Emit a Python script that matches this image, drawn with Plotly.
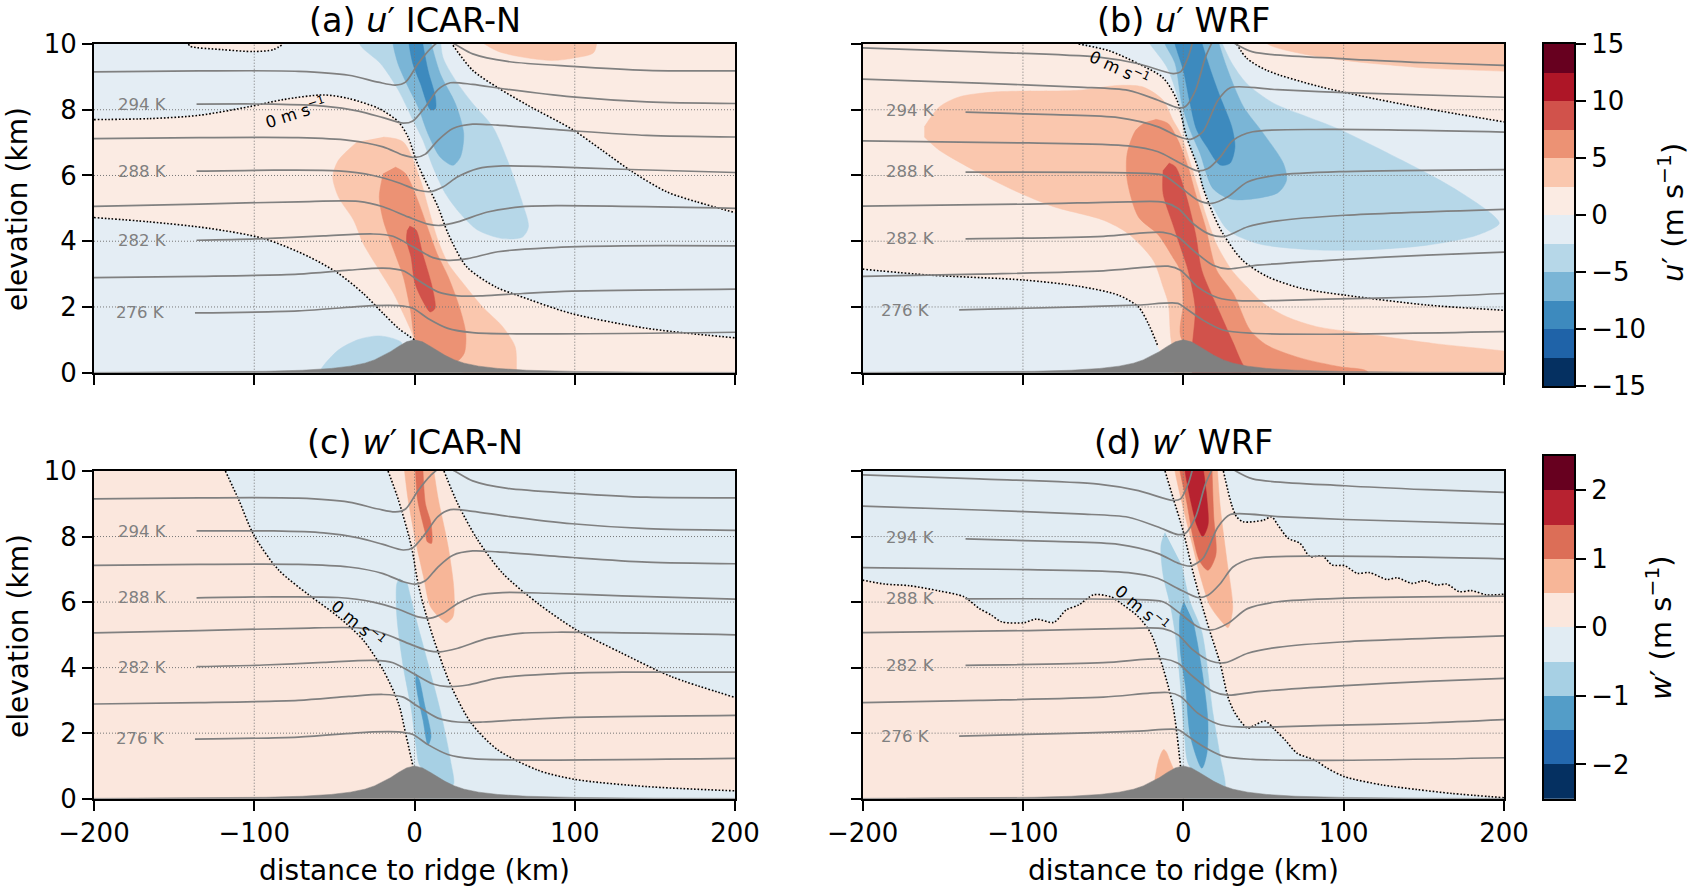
import plotly.graph_objects as go

# ---------- tick labels / levels ----------
X_TICKS = [-200, -100, 0, 100, 200]
Y_TICKS = [0, 2, 4, 6, 8, 10]
X_GRID = [-100, 0, 100]
Y_GRID = [2, 4, 6, 8]
U_LEVELS = [-15, -12.5, -10, -7.5, -5, -2.5, 0, 2.5, 5, 7.5, 10, 12.5, 15]
W_LEVELS = [-2.5, -2, -1.5, -1, -0.5, 0, 0.5, 1, 1.5, 2, 2.5]
U_TICKS = [-15, -10, -5, 0, 5, 10, 15]
W_TICKS = [-2, -1, 0, 1, 2]
U_COLORS = ["#053061", "#1f63a8", "#3d8abe", "#7ab5d6", "#b6d7e8", "#e4edf4",
            "#fbebe3", "#fac7ae", "#ec9274", "#d1524b", "#ae1627", "#67001f"]
W_COLORS = ["#053061", "#2468ae", "#539dc8", "#a7d0e4", "#e1ecf3",
            "#fbe7dd", "#f7b698", "#dc6e57", "#b72230", "#67001f"]

# ---------- terrain ----------
TERRAIN_X = [-200, -150, -100, -93, -70, -52, -40, -31, -25, -19, -15, -10, -5, 0, 5, 10, 15, 19, 25, 31, 40, 52, 70, 93, 100, 150, 200]
TERRAIN_Y = [0.01, 0.017, 0.04, 0.044, 0.075, 0.13, 0.2, 0.29, 0.39, 0.53, 0.64, 0.8, 0.94, 1.0, 0.94, 0.8, 0.64, 0.53, 0.39, 0.29, 0.2, 0.13, 0.075, 0.044, 0.04, 0.017, 0.01]

# ---------- potential temperature lines: ICAR-N ----------
IC_1X = [-137, -72.5, -25.8, -10, -1, 8.4, 20.8, 36.3, 67, 200]
IC_1Y = [1.82, 1.88, 2.04, 2.04, 1.96, 1.65, 1.35, 1.22, 1.18, 1.23]
IC_2X = [-200, -134.5, -72.5, -41, -19.6, -7, 2, 14.6, 27, 42.5, 67.4, 98.5, 200]
IC_2Y = [2.89, 2.93, 3.0, 3.12, 3.18, 3.1, 2.82, 2.46, 2.34, 2.34, 2.41, 2.48, 2.54]
IC_3X = [-136, -94, -56.8, -25.8, -13.4, -1, 11.5, 20.8, 33.2, 52, 83, 129.5, 200]
IC_3Y = [4.03, 4.08, 4.16, 4.22, 4.15, 3.83, 3.5, 3.42, 3.47, 3.68, 3.8, 3.86, 3.86]
IC_4X = [-200, -134.5, -72.5, -35, -19.6, -4, 8.4, 16, 27, 45.6, 67.4, 89, 200]
IC_4Y = [5.06, 5.13, 5.2, 5.21, 5.05, 4.74, 4.52, 4.48, 4.59, 4.89, 5.05, 5.08, 5.0]
IC_5X = [-136, -88, -47.5, -25.8, -10, 2.2, 10, 17.7, 27, 39.5, 55, 83, 129.5, 200]
IC_5Y = [6.13, 6.16, 6.14, 6.0, 5.78, 5.55, 5.51, 5.65, 5.96, 6.21, 6.29, 6.27, 6.19, 6.09]
IC_6X = [-200, -134.5, -72.5, -41, -19.6, -7, 0.6, 6.8, 14.6, 24, 36.3, 52, 98.5, 145, 200]
IC_6Y = [7.12, 7.15, 7.15, 7.07, 6.87, 6.62, 6.55, 6.65, 7.07, 7.43, 7.56, 7.53, 7.36, 7.22, 7.17]
IC_7X = [-136, -88, -56.8, -35, -19.6, -7, -1, 6.8, 14.6, 22.4, 36.3, 58, 98.5, 145, 200]
IC_7Y = [8.17, 8.17, 8.11, 7.96, 7.76, 7.59, 7.66, 8.09, 8.61, 8.82, 8.77, 8.62, 8.39, 8.24, 8.19]
IC_8X = [-200, -134.5, -72.5, -41, -22.7, -12, -5.6, 2.2, 10, 18, 25, 36.3, 58, 98.5, 145, 200]
IC_8Y = [9.15, 9.18, 9.17, 9.05, 8.84, 8.75, 8.84, 9.4, 9.86, 10.15, 10.0, 9.7, 9.47, 9.32, 9.2, 9.18]
# ---------- potential temperature lines: WRF ----------
WR_1X = [-139.8, -65.3, -28, -3.3, 1.4, 12.2, 24.7, 43.3, 89.8, 200]
WR_1Y = [1.91, 2.0, 2.06, 2.11, 1.96, 1.6, 1.3, 1.2, 1.17, 1.25]
WR_2X = [-200, -127.4, -49.8, -9.5, -1.7, 9, 21.6, 34, 89.8, 152, 200]
WR_2Y = [2.93, 3.0, 3.1, 3.24, 3.12, 2.61, 2.28, 2.19, 2.24, 2.31, 2.41]
WR_3X = [-135.8, -49.8, -12.6, -3.3, 6, 18.5, 27.8, 46.4, 100.7, 152, 200]
WR_3Y = [4.07, 4.15, 4.27, 4.13, 3.73, 3.27, 3.16, 3.27, 3.45, 3.58, 3.67]
WR_4X = [-200, -96.4, -34.3, -12.6, -3.3, 6, 17, 26.2, 40.2, 58.8, 100.7, 200]
WR_4Y = [5.07, 5.13, 5.2, 5.19, 5.0, 4.54, 4.2, 4.15, 4.44, 4.62, 4.79, 4.97]
WR_5X = [-135.8, -34.3, -12.6, -3.3, 9, 17.8, 27.8, 40, 58.8, 100.7, 200]
WR_5Y = [6.1, 6.08, 6.01, 5.7, 5.25, 5.15, 5.35, 5.8, 6.01, 6.12, 6.18]
WR_6X = [-200, -96.4, -34.3, -15.7, -3.3, 9, 15.4, 23, 31, 43.3, 89.8, 200]
WR_6Y = [7.05, 6.99, 6.9, 6.72, 6.41, 6.14, 6.21, 6.56, 7.07, 7.33, 7.4, 7.32]
WR_7X = [-135.8, -80.8, -40.5, -15.7, -3.3, 4.5, 12.2, 21.6, 29.3, 58.8, 100.7, 200]
WR_7Y = [7.93, 7.85, 7.76, 7.48, 7.19, 7.1, 7.33, 8.29, 8.67, 8.61, 8.52, 8.38]
WR_8X = [-200, -127.4, -65.3, -34.3, -15.7, -3.3, 1.4, 7.6, 13.8, 18.5]
WR_8Y = [8.93, 8.81, 8.69, 8.59, 8.29, 8.06, 8.1, 8.59, 9.6, 10.1]
WR_9X = [-200, -127.4, -52.9, -28, -6.4, -1.7, 3, 6]
WR_9Y = [9.88, 9.76, 9.6, 9.4, 9.1, 9.15, 9.6, 10.1]
WR_10X = [31, 43.3, 100.7, 152, 200]
WR_10Y = [10.05, 9.76, 9.55, 9.43, 9.35]

# ---------- panel (a) u' ICAR-N ----------
A_Z1X = [-200, -165.5, -134.5, -103.4, -81.7, -56.8, -41, -22, -10, -4, 1, 5.6, 14.6, 21, 32.6, 51, 64, 98, 145, 200]
A_Z1Y = [7.7, 7.73, 7.83, 8.09, 8.31, 8.45, 8.34, 8.03, 7.63, 7.17, 6.46, 5.96, 5.05, 4.23, 3.22, 2.6, 2.36, 1.8, 1.35, 1.06]
A_Z2X = [-200, -165.5, -128, -94, -66, -47.5, -32, -19.5, -10, 0]
A_Z2Y = [4.72, 4.59, 4.39, 4.08, 3.53, 3.02, 2.41, 1.8, 1.35, 1.0]
A_Z3X = [24, 36.3, 52, 70.5, 98.5, 117, 136, 157.5, 176, 200]
A_Z3Y = [9.96, 9.2, 8.67, 8.14, 7.4, 6.77, 6.11, 5.5, 5.2, 4.87]
A_Z4X = [-141, -140, -120, -100, -88, -82]
A_Z4Y = [10, 9.93, 9.83, 9.77, 9.83, 10]
A_P1X = [-19.5, -7, 3.7, 8.4, 14.6, 21, 30.3, 42.5, 55, 62.8, 63.6, 63, 20, 0.5, -1.5, -7, -13, -22, -32, -38, -47.5, -51, -47.5, -35.8]
A_P1Y = [7.17, 7.02, 5.86, 5.05, 4.03, 3.32, 2.72, 2.0, 1.4, 0.79, 0.18, -0.3, 0.2, 0.9, 1.2, 1.8, 2.41, 3.12, 3.93, 4.64, 5.35, 5.96, 6.46, 7.02]
A_P2X = [-12, -5.6, 2, 8, 14, 21, 28, 32, 31, 26, 10, 0.7, -2.5, -7, -13, -19.5, -22, -19.5]
A_P2Y = [6.26, 6.06, 5.25, 4.44, 3.63, 2.92, 2.0, 1.2, 0.59, 0.33, 0.5, 1.0, 1.9, 2.92, 3.73, 4.64, 5.35, 6.06]
A_P3X = [-3, 1, 5, 11, 12.8, 9.8, 5, 0.3, -2.2, -5, -4.5]
A_P3Y = [4.46, 4.34, 3.63, 2.61, 1.96, 1.85, 2.2, 2.72, 3.53, 4.03, 4.34]
A_P4X = [32, 52, 85, 100, 112, 113, 100]
A_P4Y = [10.4, 9.78, 9.5, 9.58, 9.75, 10.4, 10.6]
A_N1X = [-36, -33.8, -21.1, -10, -0.9, 5.3, 11.5, 19.3, 28.6, 39.4, 55, 67.4, 71.1, 67.4, 58, 48.8, 36.3, 25.5, 17.7, 16]
A_N1Y = [10.4, 9.96, 9.4, 8.59, 7.68, 7.07, 6.26, 5.45, 4.84, 4.34, 4.08, 4.13, 4.44, 5.15, 6.46, 7.48, 8.19, 8.9, 9.6, 10.4]
A_N2X = [-14, -13.4, -10.3, -4, 2.2, 8.4, 16, 24, 28.6, 30.7, 25.5, 16, 8.4]
A_N2Y = [10.4, 10, 9.4, 8.7, 8.09, 7.27, 6.56, 6.31, 6.56, 7.27, 8.19, 9.1, 10.4]
A_N3X = [-4, -3.4, -1, 3.7, 10, 13, 13, 8.4, 3.7]
A_N3Y = [10.4, 10, 9.4, 8.8, 8, 8.03, 8.39, 9.2, 10.4]
A_N4X = [-60, -58.4, -47.5, -35, -22.7, -13.4, -7.8, -22.7, -40]
A_N4Y = [-0.2, 0.1, 0.69, 1.01, 1.12, 1.04, 0.89, 0.1, -0.2]

# ---------- panel (b) u' WRF ----------
B_Z1X = [-65.3, -46.7, -28, -12.6, -4, 2, 9.2, 12.2, 18.5, 24.7, 37, 52.6, 74.3, 100.7, 151.9, 200]
B_Z1Y = [10, 9.8, 9.4, 8.97, 8.3, 7.18, 6.22, 5.65, 4.84, 4.23, 3.42, 2.92, 2.56, 2.36, 2.06, 1.9]
B_Z2X = [-200, -158.4, -99.5, -65.3, -40.5, -28, -21.9, -15.7]
B_Z2Y = [3.15, 2.97, 2.82, 2.63, 2.36, 2.0, 1.5, 0.79]
B_Z3X = [33.3, 39.5, 52, 85.3, 136.4, 200]
B_Z3Y = [10, 9.57, 9.2, 8.7, 8.17, 7.63]
B_P1X = [-161.5, -152, -139.8, -118, -65.3, -40.5, -25, -12.6, -6.4, -1.7, 4.5, 9, 13.8, 20.8, 30.2, 39.5, 49.9, 64.5, 83.2, 108.1, 155.9, 200, 215, 215, 0, -7.6, -9.3, -12.6, -18.8, -34.3, -49.8, -80.8, -105.7, -130.5, -152.2, -161.5]
B_P1Y = [7.48, 8.09, 8.39, 8.54, 8.59, 8.74, 8.69, 8.29, 7.68, 7.27, 6.36, 5.65, 4.84, 3.9, 3.12, 2.62, 2.11, 1.70, 1.40, 1.22, 0.89, 0.66, 0.55, -0.5, -0.5, 1.0, 2.1, 2.61, 3.42, 4.23, 4.64, 5.05, 5.55, 6.16, 6.77, 7.17]
B_P2X = [-17.2, -9.5, -3.3, 3, 7.6, 13.8, 20.8, 31.2, 41.6, 52, 72.8, 97.7, 114.4, 118, 60, -0.8, -0.1, -2, -6.4, -15.7, -28, -35, -35, -29.6, -23.4]
B_P2Y = [7.71, 7.58, 7.07, 6.26, 5.45, 4.44, 3.12, 2.41, 1.30, 0.84, 0.45, 0.18, 0.05, -0.3, -0.5, 1.0, 2.1, 3.12, 3.5, 4.2, 4.74, 5.86, 6.67, 7.38, 7.63]
B_P3X = [-8.9, -4.8, 1.4, 7.6, 11.5, 22.9, 31.2, 37.4, 45, 7.4, 7.4, 3, -0.2, -6.4, -12.6, -12.6]
B_P3Y = [6.38, 6.26, 5.45, 4.23, 3.12, 1.81, 0.90, 0.23, -0.2, -0.2, 2.0, 3.12, 3.6, 4.5, 5.45, 6.16]
B_P4X = [46, 52.6, 74.3, 100.7, 152, 200, 215, 215]
B_P4Y = [10.4, 10, 9.7, 9.5, 9.27, 9.17, 9.12, 10.4]
B_N1X = [-26, -20.8, -10.3, -3, 1, 8.4, 12.2, 18.5, 27.8, 46.4, 77.4, 111.6, 152, 183, 197, 192, 167.4, 136.4, 96, 77, 56.2, 39.5, 30.2, 20.8]
B_N1Y = [10.4, 10, 9.3, 8.3, 7.28, 6.37, 5.65, 5.05, 4.34, 3.93, 3.75, 3.73, 3.88, 4.18, 4.54, 4.84, 5.65, 6.46, 7.43, 7.79, 8.2, 8.8, 9.42, 10.4]
B_N2X = [-14, -11.4, -5.2, -1, 4.2, 10.4, 18.6, 30.9, 58.8, 64.4, 62.4, 49.9, 37.4, 27, 19.8]
B_N2Y = [10.4, 10, 9.42, 8.2, 7.38, 6.68, 5.6, 5.27, 5.47, 5.86, 6.37, 7.28, 8.1, 9.3, 10.4]
B_N3X = [-7, -5.2, 0, 4.2, 8.4, 14.6, 22.9, 29.1, 32.2, 30.2, 22.9, 17.7, 9.2]
B_N3Y = [10.4, 10, 9.2, 8.2, 7.38, 6.88, 6.32, 6.37, 6.87, 7.48, 8.4, 9.1, 10.4]

# ---------- panel (c) w' ICAR-N ----------
C_Z1X = [-118, -109.6, -100.3, -84.8, -66, -47.5, -32, -19.6, -10, -5.6, -0.9]
C_Z1Y = [10, 9.11, 8.05, 6.98, 6.22, 5.55, 4.84, 3.93, 2.91, 2, 0.98]
C_Z2X = [-16.5, -10, -1.9, 2.2, 7.6, 15, 23, 35.5, 52, 77, 100, 145, 200]
C_Z2Y = [10, 9.11, 7.69, 6.57, 5.55, 4.44, 3.42, 2.3, 1.49, 0.87, 0.59, 0.37, 0.24]
C_Z3X = [18.4, 27, 39.4, 55, 77, 101, 129.5, 160.6, 200]
C_Z3Y = [10, 9, 7.9, 6.88, 5.96, 5.15, 4.44, 3.72, 3.09]
C_P1X = [-7, -6.2, -3.9, 1, 5.6, 10, 17.4, 20, 24, 24.6, 21, 14.6, 10.9]
C_P1Y = [10.4, 10, 9.1, 7.79, 6.78, 5.86, 5.45, 5.37, 5.55, 6.37, 7.69, 9.2, 10.4]
C_P2X = [0, 0.6, 2, 6.8, 8, 10.6, 10.3, 6.8, 5]
C_P2Y = [10.4, 10, 9.1, 8.1, 7.84, 7.79, 8.4, 9, 10.4]
C_N1X = [-9.3, -11, -11, -7, -1.9, 1, 3.7, 24, 22.4, 16, 8.4, 0.6, -4.5]
C_N1Y = [6.72, 6.57, 5.55, 4.03, 2.7, 1.59, 0.98, 0.42, 1.18, 2.7, 4.13, 5.55, 6.57]
C_N2X = [0.8, 3, 6.1, 10.3, 8.4, 5.3, 2.2, 0.6]
C_N2Y = [3.82, 3.62, 2.91, 1.89, 1.64, 2.4, 3.11, 3.6]

# ---------- panel (d) w' WRF ----------
D_Z1X = [-200, -186.3, -170.8, -152.2, -136.7, -127.4, -119.6, -113.4, -99.5, -91.7, -80.8, -73, -65.3, -56, -45.2, -37.4, -28, -20.3, -12.6, -6.4, -1.7]
D_Z1Y = [6.67, 6.55, 6.5, 6.34, 6.16, 5.81, 5.6, 5.4, 5.37, 5.48, 5.38, 5.76, 5.91, 6.22, 6.16, 5.91, 5.55, 5.05, 3.98, 2.81, 0.98]
D_Z2X = [-11.4, -6.3, 0, 5.2, 10.4, 16.6, 23, 27.8, 32.4, 40.2, 44.8, 51, 57.2, 63.5, 71.2, 82, 89.8, 100.7, 124, 145.7, 167.4, 200]
D_Z2Y = [10, 9.17, 8.15, 7.08, 6.12, 5.1, 4.13, 3.11, 2.6, 2.15, 2.25, 2.37, 2.1, 1.79, 1.38, 1.18, 0.93, 0.67, 0.42, 0.28, 0.16, 0.03]
D_Z3X = [25, 30.2, 33.3, 37.4, 49.9, 55.1, 59, 65.3, 72.8, 79, 86.7, 92.9, 100.7, 108.4, 116, 127, 133.3, 142.6, 150.3, 158, 164.3, 172, 179.8, 189, 200]
D_Z3Y = [10, 8.96, 8.6, 8.45, 8.5, 8.6, 8.35, 7.95, 7.79, 7.39, 7.41, 7.13, 7.11, 6.88, 6.9, 6.69, 6.74, 6.57, 6.65, 6.52, 6.55, 6.32, 6.35, 6.22, 6.24]
D_P1X = [-6, -5.2, 0, 5.2, 10.4, 16.6, 24, 27.9, 30.8, 27, 22.9, 20.8]
D_P1Y = [10.4, 10, 8.86, 7.84, 6.83, 5.9, 5.4, 5.22, 5.81, 7.34, 8.96, 10.4]
D_P2X = [-3, -2.1, 2.1, 6.2, 10.4, 15.4, 20.3, 18.9, 17.7]
D_P2Y = [10.4, 10, 9.06, 7.95, 7.23, 6.97, 7.44, 8.65, 10.4]
D_P3X = [0.5, 1.1, 5.2, 8.4, 12.1, 15.4, 14.7, 11.5]
D_P3Y = [10.4, 10, 8.96, 8.35, 8.0, 8.35, 9.17, 10.4]
D_P4X = [-18.5, -17, -15.5, -13.5, -12.2, -10.5, -8.5, -6.5, -4.5, -8]
D_P4Y = [0.35, 0.8, 1.15, 1.42, 1.5, 1.42, 1.18, 0.95, 0.7, 0.3]
D_N1X = [-11.4, -13.9, -12.6, -7.9, -4.8, -1.7, 0.8, 4, 25.6, 23, 18.5, 11.5, 4.2, -1]
D_N1Y = [8.12, 7.74, 6.83, 5.86, 4.94, 3.42, 1.89, 0.98, 0.32, 1.28, 2.6, 5.1, 6.01, 7.13]
D_N2X = [0.4, -2.1, -1.7, 1.4, 4.5, 11.6, 14.7, 15.3, 12.2, 9, 6.2]
D_N2Y = [6.01, 5.6, 4.44, 3.42, 1.89, 0.93, 1.38, 2.4, 3.72, 4.69, 5.4]

UNIT_ZERO = "0 m s<sup>−1</sup>"
TH_LABELS = ["276 K", "282 K", "288 K", "294 K"]

# ---------- helpers ----------
GRAY = "#808080"
FONT = "DejaVu Sans"
W, H = 1692, 886
PANELS = {1: (94, 735, 44, 372.7), 2: (862.6, 1504, 44, 372.7),
          3: (94, 735, 471, 798.7), 4: (862.6, 1504, 471, 798.7)}
fig = go.Figure()


def ref(n):
    return dict(xaxis=f"x{n}", yaxis=f"y{n}")


def fill(n, xs, ys, color):
    fig.add_trace(go.Scatter(x=xs, y=ys, mode="lines", fill="toself", fillcolor=color,
                             line=dict(color=color, width=0.5, shape="spline", smoothing=0.8),
                             hoverinfo="skip", showlegend=False, **ref(n)))


def line(n, xs, ys, color=GRAY, width=1.7, dash="solid", shape="spline"):
    fig.add_trace(go.Scatter(x=xs, y=ys, mode="lines",
                             line=dict(color=color, width=width, dash=dash, shape=shape, smoothing=0.8),
                             hoverinfo="skip", showlegend=False, **ref(n)))


def grid(n):
    for g in X_GRID:
        line(n, [g, g], [0, 10], "#777777", 1, "1px,2px", "linear")
    for g in Y_GRID:
        line(n, [-200, 200], [g, g], "#777777", 1, "1px,2px", "linear")


def zero(n, *pairs):
    for xs, ys in pairs:
        line(n, xs, ys, "#000000", 1.6, "1.6px,1.9px")


def top(n, lines):
    for xs, ys in lines:
        line(n, xs, ys)
    fig.add_trace(go.Scatter(x=TERRAIN_X + [215, -215], y=TERRAIN_Y + [-0.5, -0.5], mode="lines",
                             fill="toself", fillcolor=GRAY, line=dict(color=GRAY, width=0.5),
                             hoverinfo="skip", showlegend=False, **ref(n)))


ICAR = [(IC_1X, IC_1Y), (IC_2X, IC_2Y), (IC_3X, IC_3Y), (IC_4X, IC_4Y),
        (IC_5X, IC_5Y), (IC_6X, IC_6Y), (IC_7X, IC_7Y), (IC_8X, IC_8Y)]
WRF = [(WR_1X, WR_1Y), (WR_2X, WR_2Y), (WR_3X, WR_3Y), (WR_4X, WR_4Y), (WR_5X, WR_5Y),
       (WR_6X, WR_6Y), (WR_7X, WR_7Y), (WR_8X, WR_8Y), (WR_9X, WR_9Y), (WR_10X, WR_10Y)]
UP = dict(n0=U_COLORS[5], n1=U_COLORS[4], n2=U_COLORS[3], n3=U_COLORS[2],
          p0=U_COLORS[6], p1=U_COLORS[7], p2=U_COLORS[8], p3=U_COLORS[9])
WP = dict(n0=W_COLORS[4], n1=W_COLORS[3], n2=W_COLORS[2],
          p0=W_COLORS[5], p1=W_COLORS[6], p2=W_COLORS[7], p3=W_COLORS[8])

# panel a
fill(1, [-215, 215, 215, -215], [-1, -1, 11, 11], UP["n0"])
fill(1, A_Z1X + [215, 215, 0] + A_Z2X[::-1] + [-215, -215],
     A_Z1Y + [1.0, -0.5, -0.5] + A_Z2Y[::-1] + [4.8, 7.7], UP["p0"])
fill(1, [20] + A_Z3X + [215, 215], [10.5] + A_Z3Y + [4.8, 10.5], UP["p0"])
fill(1, A_Z4X, A_Z4Y, UP["p0"])
fill(1, A_P1X, A_P1Y, UP["p1"])
fill(1, A_P2X, A_P2Y, UP["p2"])
fill(1, A_P3X, A_P3Y, UP["p3"])
fill(1, A_P4X, A_P4Y, UP["p1"])
fill(1, A_N1X, A_N1Y, UP["n1"])
fill(1, A_N2X, A_N2Y, UP["n2"])
fill(1, A_N3X, A_N3Y, UP["n3"])
fill(1, A_N4X, A_N4Y, UP["n1"])
grid(1)
zero(1, (A_Z1X, A_Z1Y), (A_Z2X, A_Z2Y), (A_Z3X, A_Z3Y), (A_Z4X, A_Z4Y))
top(1, ICAR)

# panel b
fill(2, [-215, 215, 215, -215], [-1, -1, 11, 11], UP["n0"])
fill(2, [-215, -70] + B_Z1X + [215, 215, 0] + B_Z2X[::-1] + [-215],
     [10.5, 10.5] + B_Z1Y + [1.85, -0.5, -0.5] + B_Z2Y[::-1] + [3.2], UP["p0"])
fill(2, [30] + B_Z3X + [215, 215], [10.5] + B_Z3Y + [7.5, 10.5], UP["p0"])
fill(2, B_P1X, B_P1Y, UP["p1"])
fill(2, B_P2X, B_P2Y, UP["p2"])
fill(2, B_P3X, B_P3Y, UP["p3"])
fill(2, B_P4X, B_P4Y, UP["p1"])
fill(2, B_N1X, B_N1Y, UP["n1"])
fill(2, B_N2X, B_N2Y, UP["n2"])
fill(2, B_N3X, B_N3Y, UP["n3"])
grid(2)
zero(2, (B_Z1X, B_Z1Y), (B_Z2X, B_Z2Y), (B_Z3X, B_Z3Y))
top(2, WRF)

# panel c
fill(3, [-215, 215, 215, -215], [-1, -1, 11, 11], WP["n0"])
fill(3, [-215, -120] + C_Z1X + [0, -215], [10.5, 10.5] + C_Z1Y + [-0.5, -0.5], WP["p0"])
fill(3, [-18] + C_Z2X + [215] + [215] + C_Z3X[::-1] + [17],
     [10.5] + C_Z2Y + [0.2] + [3.0] + C_Z3Y[::-1] + [10.5], WP["p0"])
fill(3, C_P1X, C_P1Y, WP["p1"])
fill(3, C_P2X, C_P2Y, WP["p2"])
fill(3, C_N1X, C_N1Y, WP["n1"])
fill(3, C_N2X, C_N2Y, WP["n2"])
grid(3)
zero(3, (C_Z1X, C_Z1Y), (C_Z2X, C_Z2Y), (C_Z3X, C_Z3Y))
top(3, ICAR)

# panel d
fill(4, [-215, 215, 215, -215], [-1, -1, 11, 11], WP["n0"])
fill(4, [-215] + D_Z1X + [0, -215], [6.7] + D_Z1Y + [-0.5, -0.5], WP["p0"])
fill(4, [-12.5] + D_Z2X + [215] + [215] + D_Z3X[::-1] + [24],
     [10.5] + D_Z2Y + [0.0] + [6.24] + D_Z3Y[::-1] + [10.5], WP["p0"])
fill(4, D_P1X, D_P1Y, WP["p1"])
fill(4, D_P2X, D_P2Y, WP["p2"])
fill(4, D_P3X, D_P3Y, WP["p3"])
fill(4, D_P4X, D_P4Y, WP["p1"])
fill(4, D_N1X, D_N1Y, WP["n1"])
fill(4, D_N2X, D_N2Y, WP["n2"])
grid(4)
zero(4, (D_Z1X, D_Z1Y), (D_Z2X, D_Z2Y), (D_Z3X, D_Z3Y))
top(4, WRF)

# colour bars
for lev, cols, ax in ((U_LEVELS, U_COLORS, 5), (W_LEVELS, W_COLORS, 6)):
    fig.add_trace(go.Bar(x=[0] * len(cols), y=[b - a for a, b in zip(lev[:-1], lev[1:])], base=lev[:-1],
                         width=1, marker=dict(color=cols, line=dict(width=0)), hoverinfo="skip",
                         showlegend=False, xaxis=f"x{ax}", yaxis=f"y{ax}"))

layout = dict(width=W, height=H, margin=dict(l=0, r=0, t=0, b=0, pad=0), autosize=False, template="none",
              paper_bgcolor="white", plot_bgcolor="white", barmode="overlay", bargap=0,
              font=dict(family=FONT, color="black"), showlegend=False)


def dom(x0, x1, y0, y1):
    return [x0 / W, x1 / W], [1 - y1 / H, 1 - y0 / H]


AX = dict(automargin=False, showline=True, linewidth=2, linecolor="black", mirror=True, showgrid=False, zeroline=False,
          ticks="outside", ticklen=10, tickwidth=2, tickcolor="black", tickfont=dict(size=26, family=FONT))
for n, (x0, x1, y0, y1) in PANELS.items():
    dx, dy = dom(x0, x1, y0, y1)
    layout[f"xaxis{n}"] = dict(AX, domain=dx, range=[-200, 200], tickvals=X_TICKS, anchor=f"y{n}",
                               showticklabels=n in (3, 4))
    layout[f"yaxis{n}"] = dict(AX, domain=dy, range=[0, 10], tickvals=Y_TICKS, anchor=f"x{n}",
                               showticklabels=n in (1, 3))
for ax, (y0, y1), ticks, rng in ((5, (43.5, 386), U_TICKS, [-15, 15]), (6, (456, 798.7), W_TICKS, [-2.5, 2.5])):
    dx, dy = dom(1544, 1574, y0, y1)
    layout[f"xaxis{ax}"] = dict(automargin=False, domain=dx, range=[-0.5, 0.5], showticklabels=False, ticks="", showgrid=False,
                                zeroline=False, showline=True, linewidth=2, linecolor="black", mirror=True,
                                anchor=f"y{ax}", fixedrange=True)
    layout[f"yaxis{ax}"] = dict(AX, domain=dy, range=rng, tickvals=ticks, side="right", anchor=f"x{ax}",
                                tickfont=dict(size=26, family=FONT))

ann = []


def text(px, py, s, size, angle=0, color="black", xanchor="center"):
    ann.append(dict(x=px / W, y=1 - py / H, xref="paper", yref="paper", text=s, showarrow=False, textangle=angle,
                    xanchor=xanchor, yanchor="middle", font=dict(size=size, color=color, family=FONT)))


for (px, py, s) in ((414.5, 21, "(a) <i>u</i>′ ICAR-N"), (1183, 21, "(b) <i>u</i>′ WRF"),
                    (414.5, 442, "(c) <i>w</i>′ ICAR-N"), (1183, 442, "(d) <i>w</i>′ WRF")):
    text(px, py, s, 33.5)
text(18, 209, "elevation (km)", 28, -90)
text(18, 636, "elevation (km)", 28, -90)
text(414.5, 870, "distance to ridge (km)", 28)
text(1183, 870, "distance to ridge (km)", 28)
text(1671, 213, "<i>u</i>′ (m s<sup>−1</sup>)", 29, -90)
text(1659, 628, "<i>w</i>′ (m s<sup>−1</sup>)", 29, -90)


def data_text(n, x, y, s, size, angle=0, color=GRAY):
    ann.append(dict(x=x, y=y, xref=f"x{n}", yref=f"y{n}", text=s, showarrow=False, textangle=angle,
                    font=dict(size=size, color=color, family=FONT), xanchor="center", yanchor="middle"))


LABEL_Y_IC = [1.83, 4.01, 6.13, 8.16]
LABEL_Y_WR = [1.9, 4.07, 6.12, 7.98]
LABEL_X_IC = [-171, -170, -170, -170]
LABEL_X_WR = [-173.3, -170, -170, -170]
for n, xs, ys in ((1, LABEL_X_IC, LABEL_Y_IC), (2, LABEL_X_WR, LABEL_Y_WR),
                  (3, LABEL_X_IC, LABEL_Y_IC), (4, LABEL_X_WR, LABEL_Y_WR)):
    for x, y, s in zip(xs, ys, TH_LABELS):
        data_text(n, x, y, s, 16.5)
data_text(1, -74, 7.93, UNIT_ZERO, 16.5, -18, "black")
data_text(2, -39.5, 9.27, UNIT_ZERO, 16.5, 25, "black")
data_text(3, -35, 5.36, UNIT_ZERO, 16.5, 40, "black")
data_text(4, -25.4, 5.83, UNIT_ZERO, 16.5, 40, "black")
layout["annotations"] = ann
fig.update_layout(**layout)
fig.write_html("out.html", config=dict(displayModeBar=False),
               post_script="document.body.style.margin='0';document.body.style.overflow='hidden';")
